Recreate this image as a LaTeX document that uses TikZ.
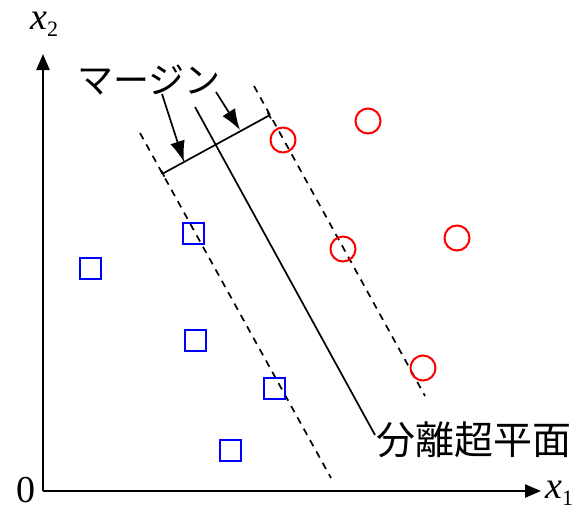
\documentclass[tikz,border=0pt]{standalone}
\usepackage{fontspec}
\newfontfamily\jpfont{Noto Sans CJK JP}
\newfontfamily\axfont{Liberation Serif}
\usetikzlibrary{arrows.meta}
\tikzset{
  axis/.style={line width=2.4pt,-{Triangle[length=16pt,width=13pt]}},
  plane/.style={line width=1.7pt},
  margin/.style={line width=1.7pt,dash pattern=on 7pt off 6pt},
  bar/.style={line width=1.7pt,{|[width=7pt]}-{|[width=7pt]}},
  pointer/.style={line width=1.7pt,-{Latex[length=21pt,width=15pt]}},
  posclass/.style={circle,draw=red,line width=2pt,minimum size=25pt,inner sep=0pt},
  negclass/.style={rectangle,draw=blue,line width=2pt,minimum size=21pt,inner sep=0pt},
  lbl/.style={inner sep=0pt},
  axlbl/.style={lbl,font=\axfont\fontsize{38}{38}\selectfont}
}
\newcommand{\axsub}[1]{\raisebox{-7pt}{\upshape\fontsize{22}{22}\selectfont #1}}
\begin{document}
\begin{tikzpicture}[x=1pt,y=-1pt]
\useasboundingbox (0,0) rectangle (583,515);

% axes
\coordinate (O) at (43,491);
\coordinate (ytip) at (43,54);
\coordinate (xtip) at (541,491);
\draw[axis] (O) -- (ytip);
\draw[axis] (O) -- (xtip);
\node[axlbl,anchor=west] (x2) at (30,24) {\itshape x\axsub{2}};
\node[axlbl,anchor=west] (x1) at (545,493) {\itshape x\axsub{1}};
\node[axlbl] (zero) at (26,490) {0};

% separating hyperplane and the two margin lines
\coordinate (h1) at (195,107);
\coordinate (h2) at (375,435);
\coordinate (l1) at (140,133);
\coordinate (l2) at (331,478);
\coordinate (r1) at (254,86);
\coordinate (r2) at (425,396);
\draw[plane] (h1) -- (h2);
\draw[margin] (l1) -- (l2);
\draw[margin] (r1) -- (r2);

% margin width bar
\coordinate (b1) at (162,174);
\coordinate (b2) at (270,115);
\draw[bar] (b1) -- (b2);

% labels
\node[lbl,anchor=west,font=\jpfont\fontsize{36}{36}\selectfont] (mg) at (77,80) {マージン};
\node[lbl,anchor=west,font=\jpfont\fontsize{39}{39}\selectfont] (hp) at (376,440) {分離超平面};

\coordinate (a1) at (162,94);
\coordinate (t1) at (184,162);
\coordinate (a2) at (216,92);
\coordinate (t2) at (240,130);
\draw[pointer] (a1) -- (t1);
\draw[pointer] (a2) -- (t2);

% class +1
\node[posclass] (p1) at (283,140) {};
\node[posclass] (p2) at (368,121) {};
\node[posclass] (p3) at (343,249) {};
\node[posclass] (p4) at (457,238) {};
\node[posclass] (p5) at (423,368) {};

% class -1
\node[negclass] (n1) at (90,268) {};
\node[negclass] (n2) at (193,233) {};
\node[negclass] (n3) at (195,340) {};
\node[negclass] (n4) at (274,388) {};
\node[negclass] (n5) at (230,450) {};
\end{tikzpicture}
\end{document}
